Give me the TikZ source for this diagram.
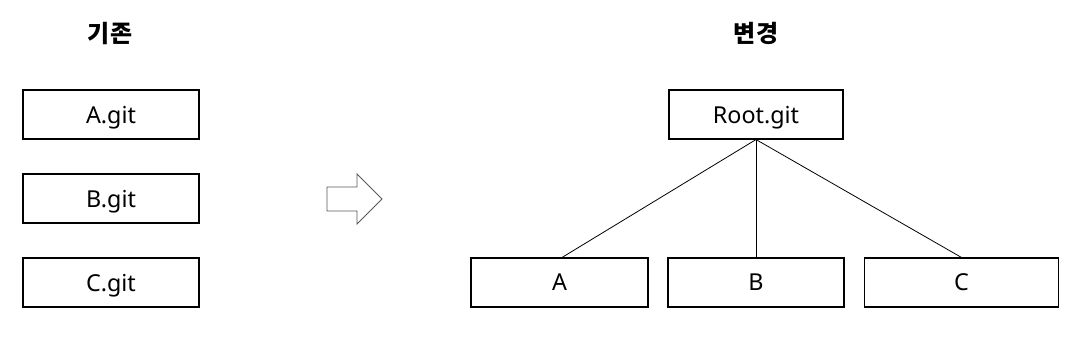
\documentclass[tikz,border=0pt]{standalone}
\usepackage{fontspec}
\setmainfont{Noto Sans}
\newfontfamily\krfont{Noto Sans CJK KR}
\usepackage{tikz}
\usetikzlibrary{positioning}

\begin{document}
\begin{tikzpicture}[
  x=0.75pt, y=-0.75pt,
  box/.style={draw=black, line width=0.8pt, minimum width=#1,
              minimum height=36.75pt, inner sep=0pt, text depth=0pt,
              font=\fontsize{17.5}{20}\selectfont},
  box/.default=132pt,
  title/.style={font=\krfont\bfseries\fontsize{18}{20}\selectfont},
  link/.style={draw=black, line width=0.6pt}
]
\useasboundingbox (0,0) rectangle (1077,337);

% Titles
\node[title] (old) at (110,33) {기존};
\node[title] (new) at (756,33) {변경};

% Old repositories
\node[box] (agit) at (111,114.5) {A.git};
\node[box] (bgit) at (111,198.5) {B.git};
\node[box] (cgit) at (111,282.5) {C.git};

% Block arrow
\draw[draw=black!65, line width=0.6pt, fill=white]
  (327,187) -- (357,187) -- (357,174) -- (382,199) -- (357,224)
  -- (357,211) -- (327,211) -- cycle;

% New layout
\node[box=130.5pt] (root) at (756,114.5) {Root.git};
\node[box=132.75pt] (a) at (559.5,282.5) {A};
\node[box=132pt]    (b) at (756,282.5)   {B};
\node[box=145.5pt]  (c) at (961.5,282.5) {C};

\draw[link] (root.south) -- (a.north -| 562,0);
\draw[link] (root.south) -- (b.north);
\draw[link] (root.south) -- (c.north);
\end{tikzpicture}
\end{document}
